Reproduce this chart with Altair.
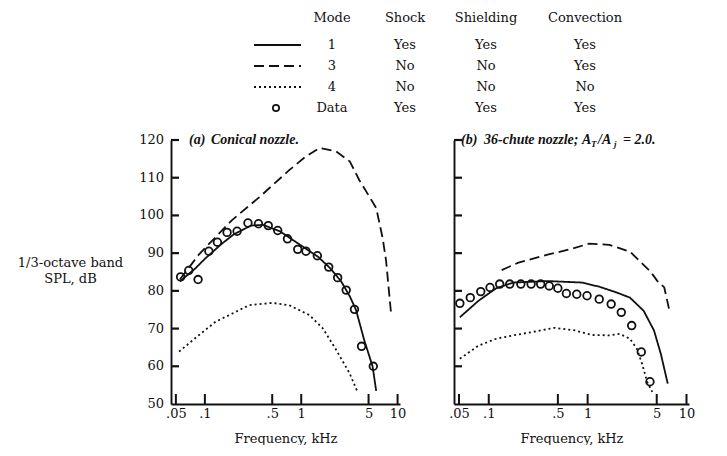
import altair as alt
import pandas as pd

# ---------------- data ----------------
# (a) Conical nozzle
a_mode1_f = [0.055, 0.08, 0.1, 0.15, 0.2, 0.3, 0.4, 0.6, 1.0, 1.5, 2.0, 2.6, 3.2, 3.7, 4.5, 5.5, 6.0]
a_mode1_spl = [82.5, 86.0, 88.5, 92.5, 95.0, 97.3, 97.5, 95.8, 92.0, 89.0, 86.0, 82.5, 78.5, 75.0, 67.0, 60.0, 53.5]
a_mode3_f = [0.055, 0.087, 0.19, 0.37, 0.75, 1.1, 1.55, 2.3, 3.2, 4.0, 6.0, 7.0, 7.6, 8.6]
a_mode3_spl = [83.0, 89.7, 98.7, 104.9, 112.0, 115.5, 117.9, 117.0, 114.3, 109.4, 102.0, 94.0, 88.0, 73.5]
a_mode4_f = [0.054, 0.087, 0.129, 0.193, 0.288, 0.5, 0.75, 1.21, 1.67, 2.3, 3.17, 3.87]
a_mode4_spl = [63.9, 68.3, 71.8, 74.0, 76.2, 76.8, 76.2, 73.6, 70.1, 64.4, 58.2, 53.0]
a_data_f = [0.056, 0.068, 0.085, 0.11, 0.135, 0.17, 0.216, 0.28, 0.36, 0.455, 0.57, 0.72,
            0.92, 1.12, 1.47, 1.93, 2.39, 2.93, 3.57, 4.23, 5.6]
a_data_spl = [83.7, 85.4, 83.0, 90.5, 92.9, 95.5, 95.8, 98.0, 97.8, 97.3, 96.0, 93.8,
              91.0, 90.5, 89.3, 86.3, 83.5, 80.2, 75.1, 65.3, 60.0]

# (b) 36-chute nozzle
b_mode1_f = [0.051, 0.079, 0.119, 0.177, 0.394, 0.875, 1.31, 1.95, 2.68, 3.69, 4.69, 5.5, 6.46]
b_mode1_spl = [73.0, 77.4, 80.7, 82.2, 82.6, 82.2, 81.1, 79.6, 78.2, 74.7, 69.5, 63.3, 55.4]
b_mode3_f = [0.135, 0.2, 0.394, 0.636, 1.03, 1.66, 2.68, 4.33, 5.08, 5.96, 6.72]
b_mode3_spl = [85.5, 87.5, 89.6, 90.9, 92.5, 92.2, 90.4, 85.1, 82.6, 80.9, 74.7]
b_mode4_f = [0.051, 0.079, 0.119, 0.177, 0.265, 0.461, 0.746, 1.11, 1.66, 2.11, 2.68, 3.15, 3.55, 4.0, 4.5]
b_mode4_spl = [62.0, 65.5, 67.3, 68.2, 69.0, 70.2, 69.5, 68.3, 68.2, 68.6, 67.3, 64.6, 60.7, 55.9, 53.2]
b_data_f = [0.051, 0.065, 0.083, 0.103, 0.129, 0.163, 0.211, 0.268, 0.335, 0.409, 0.50, 0.61,
            0.776, 0.986, 1.31, 1.73, 2.19, 2.79, 3.49, 4.27]
b_data_spl = [76.7, 78.2, 79.8, 80.9, 81.8, 81.8, 81.8, 81.8, 81.8, 81.3, 80.7, 79.3,
              79.1, 78.7, 77.8, 76.5, 74.3, 70.8, 63.8, 55.9]

# axis ticks
x_tick_values = [0.05, 0.1, 0.5, 1, 5, 10]
y_tick_values = [50, 60, 70, 80, 90, 100, 110, 120]

# legend table
legend_columns = ["Mode", "Shock", "Shielding", "Convection"]
legend_modes = ["1", "3", "4", "Data"]
legend_shock = ["Yes", "No", "No", "Yes"]
legend_shielding = ["Yes", "No", "No", "Yes"]
legend_convection = ["Yes", "Yes", "No", "Yes"]

# ---------------- styling / layout ----------------
FONT = "DejaVu Serif"
TFONT = "Liberation Serif"
INK = "#111111"
FS = 13
W_A, W_B, H = 229, 235, 264
X_DOMAIN = [0.0445, 10.6]
Y_DOMAIN = [50, 120]
DASH = {"1": [1, 0], "3": [10, 5], "4": [2, 3]}

xs = alt.Scale(type="log", domain=X_DOMAIN, nice=False)
ys = alt.Scale(domain=Y_DOMAIN, nice=False, zero=False)


def xy_df(f, s):
    return pd.DataFrame({"f": f, "spl": s})


def panel(width, m1, m3, m4, data, title_parts, show_labels):
    xaxis = alt.Axis(
        values=x_tick_values,
        labelExpr="datum.value < 1 ? substring(toString(datum.value), 1) : toString(datum.value)",
        tickSize=0, grid=False, domainColor=INK, domainWidth=1.9,
        labelFont=FONT, labelFontSize=FS, labelColor=INK, labelPadding=3,
        labelFlush=False, labelOverlap=False,
        title="Frequency, kHz", titleFont=FONT, titleFontSize=FS,
        titleFontWeight="normal", titlePadding=12, titleColor=INK,
    )
    if show_labels:
        yaxis = alt.Axis(
            values=y_tick_values, tickSize=0, grid=False, domainColor=INK, domainWidth=1.9,
            labels=False,
            title=["1/3-octave band", "SPL, dB"], titleFont=FONT, titleFontSize=FS,
            titleFontWeight="normal", titleColor=INK, titleAngle=0, titleAlign="center",
            titleBaseline="top", titleX=-101, titleY=116, titleLineHeight=16,
        )
        ytitle = ["1/3-octave band", "SPL, dB"]
    else:
        yaxis = alt.Axis(values=y_tick_values, tickSize=0, grid=False, labels=False,
                         domainColor=INK, domainWidth=1.9)
        ytitle = None

    layers = []
    for key, (f, s) in zip(["1", "3", "4"], [m1, m3, m4]):
        layers.append(
            alt.Chart(xy_df(f, s)).mark_line(color=INK, strokeWidth=1.8, strokeDash=DASH[key])
            .encode(x=alt.X("f:Q", scale=xs, axis=xaxis),
                    y=alt.Y("spl:Q", scale=ys, axis=yaxis, title=ytitle))
        )
    layers.append(
        alt.Chart(xy_df(*data)).mark_point(shape="circle", filled=False, size=58,
                                          strokeWidth=1.8, color=INK, opacity=1)
        .encode(x=alt.X("f:Q", scale=xs), y=alt.Y("spl:Q", scale=ys))
    )
    # inward ticks on the y axis
    layers.append(
        alt.Chart(pd.DataFrame({"spl": y_tick_values[1:]})).mark_rule(
            color=INK, strokeWidth=2.2, opacity=1)
        .encode(y=alt.Y("spl:Q", scale=ys), x=alt.value(0), x2=alt.value(8))
    )
    # inward ticks on the x axis
    layers.append(
        alt.Chart(pd.DataFrame({"f": x_tick_values})).mark_rule(
            color=INK, strokeWidth=2.0, opacity=1)
        .encode(x=alt.X("f:Q", scale=xs), y=alt.value(H), y2=alt.value(H - 10))
    )
    if show_labels:
        layers.append(
            alt.Chart(pd.DataFrame({"spl": y_tick_values})).mark_text(
                font=FONT, fontSize=FS, color=INK, align="right", baseline="middle")
            .encode(y=alt.Y("spl:Q", scale=ys), x=alt.value(-7), text=alt.Text("spl:Q"))
        )
    for text, xpos, dy, size in title_parts:
        layers.append(
            alt.Chart(pd.DataFrame({"t": [text]})).mark_text(
                font=TFONT, fontSize=size, fontStyle="italic", fontWeight="bold",
                align="left", baseline="middle", color=INK, dy=dy)
            .encode(x=alt.value(xpos), y=alt.value(0), text="t:N")
        )
    return alt.layer(*layers).properties(width=width, height=H)


panel_a = panel(
    W_A,
    (a_mode1_f, a_mode1_spl), (a_mode3_f, a_mode3_spl), (a_mode4_f, a_mode4_spl),
    (a_data_f, a_data_spl),
    [("(a)", 18, 0, 14), ("Conical nozzle.", 40, 0, 14)],
    True,
)
panel_b = panel(
    W_B,
    (b_mode1_f, b_mode1_spl), (b_mode3_f, b_mode3_spl), (b_mode4_f, b_mode4_spl),
    (b_data_f, b_data_spl),
    [("(b)", 7, 0, 14), ("36-chute nozzle;", 30, 0, 14), ("A", 128, 0, 14),
     ("T", 137, 4, 9), ("/A", 144, 0, 14), ("j", 160, 4, 9), ("= 2.0.", 169, 0, 14)],
    False,
)

# ---------------- legend table ----------------
LW, LH = 518, 110
row_scale = alt.Scale(type="point", domain=legend_modes, range=[37, 100], padding=0)
col_x = {"Mode": 161, "Shock": 234, "Shielding": 315, "Convection": 414}
col_vals = {"Mode": legend_modes, "Shock": legend_shock,
            "Shielding": legend_shielding, "Convection": legend_convection}

leg_layers = []
for c in legend_columns:
    leg_layers.append(
        alt.Chart(pd.DataFrame({"t": [c]})).mark_text(font=FONT, fontSize=FS, color=INK,
                                                      align="center", baseline="middle")
        .encode(x=alt.value(col_x[c]), y=alt.value(10), text="t:N")
    )
    leg_layers.append(
        alt.Chart(pd.DataFrame({"mode": legend_modes, "t": col_vals[c]})).mark_text(
            font=FONT, fontSize=FS, color=INK, align="center", baseline="middle")
        .encode(x=alt.value(col_x[c]), y=alt.Y("mode:N", scale=row_scale, axis=None), text="t:N")
    )
for key in ["1", "3", "4"]:
    leg_layers.append(
        alt.Chart(pd.DataFrame({"mode": [key]})).mark_rule(color=INK, strokeWidth=1.9,
                                                          strokeDash=DASH[key])
        .encode(y=alt.Y("mode:N", scale=row_scale, axis=None), x=alt.value(83), x2=alt.value(130))
    )
leg_layers.append(
    alt.Chart(pd.DataFrame({"mode": ["Data"]})).mark_point(shape="circle", filled=False, size=40,
                                                         strokeWidth=1.7, color=INK, opacity=1)
    .encode(y=alt.Y("mode:N", scale=row_scale, axis=None), x=alt.value(105))
)
legend = alt.layer(*leg_layers).properties(width=LW, height=LH)

chart = alt.vconcat(
    legend,
    alt.hconcat(panel_a, panel_b, spacing=54, bounds="flush"),
    spacing=22, bounds="flush",
).properties(
    padding={"left": 9, "top": 0, "right": 0, "bottom": 0},
    background="white",
).configure_view(strokeWidth=0)

chart.save("out.html", embed_options={"renderer": "svg", "actions": False})
